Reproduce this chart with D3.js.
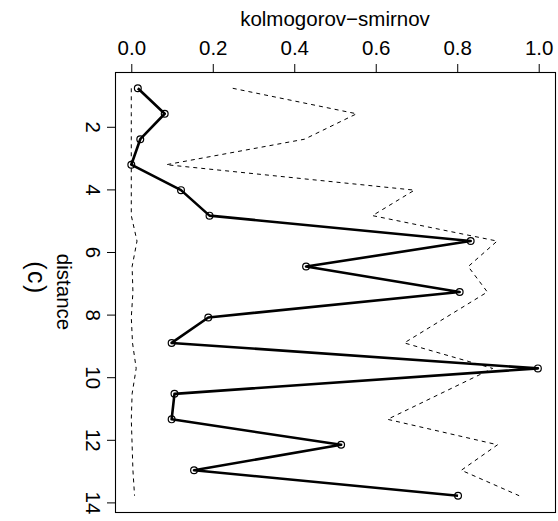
<!DOCTYPE html>
<html>
<head>
<meta charset="utf-8">
<script src="https://cdn.jsdelivr.net/npm/d3@7"></script>
<style>
  html, body { margin: 0; padding: 0; background: #fff; }
  svg { display: block; font-family: "Liberation Sans", Arial, Helvetica, sans-serif; }
</style>
</head>
<body>
<svg id="chart" width="558" height="521"></svg>
<script>
// ---- data ----
const distance   = [0.770, 1.584, 2.397, 3.211, 4.024, 4.838, 5.651, 6.465, 7.278, 8.092, 8.905, 9.719, 10.532, 11.346, 12.159, 12.973, 13.786];
const ksObserved = [0.016, 0.082, 0.022, 0.000, 0.122, 0.192, 0.833, 0.429, 0.806, 0.189, 0.099, 0.998, 0.106, 0.099, 0.515, 0.154, 0.802];
const ksUpper    = [0.249, 0.553, 0.425, 0.086, 0.695, 0.592, 0.898, 0.827, 0.874, 0.772, 0.670, 0.887, 0.758, 0.629, 0.899, 0.810, 0.952];
const ksLower    = [0.000, 0.000, 0.000, 0.000, 0.000, 0.000, 0.014, 0.002, 0.004, 0.000, 0.003, 0.012, 0.002, 0.000, 0.002, 0.004, 0.008];
const ksTicks    = [0, 0.2, 0.4, 0.6, 0.8, 1.0];
const distTicks  = [2, 4, 6, 8, 10, 12, 14];
const ksTitle    = "kolmogorov\u2212smirnov";
const distTitle  = "distance";
const panelLabel = "(c)";

// ---- layout ----
const box = { left: 115, top: 72, right: 555, bottom: 512 };
const fontSize = 20.5;

const svg = d3.select("#chart");

function padded(lo, hi) { const d = (hi - lo) * 0.04; return [lo - d, hi + d]; }

const x = d3.scaleLinear().domain(padded(0, 1)).range([box.left, box.right]);
const dExt = d3.extent(distance);
const y = d3.scaleLinear().domain(padded(dExt[0], dExt[1])).range([box.top, box.bottom]);

// top axis (KS)
const gx = svg.append("g")
  .attr("transform", `translate(0,${box.top})`)
  .call(d3.axisTop(x).tickValues(ksTicks).tickFormat(d3.format(".1f"))
        .tickSizeInner(8).tickSizeOuter(0).tickPadding(9));
gx.select(".domain").remove();
gx.selectAll("line").attr("stroke", "#000").attr("stroke-width", 1);
gx.selectAll("text").attr("font-size", fontSize).attr("fill", "#000")
  .attr("font-family", "Liberation Sans, Arial, sans-serif");

// left axis (distance), labels rotated
const gy = svg.append("g")
  .attr("transform", `translate(${box.left},0)`)
  .call(d3.axisLeft(y).tickValues(distTicks).tickFormat(d3.format("d"))
        .tickSizeInner(8).tickSizeOuter(0));
gy.select(".domain").remove();
gy.selectAll("line").attr("stroke", "#000").attr("stroke-width", 1);
gy.selectAll("text")
  .attr("x", null).attr("y", null).attr("dy", null)
  .attr("text-anchor", "middle")
  .attr("transform", "translate(-29,0) rotate(90)")
  .attr("font-size", fontSize).attr("fill", "#000")
  .attr("font-family", "Liberation Sans, Arial, sans-serif");

// plot box
svg.append("rect")
  .attr("x", box.left + 0.5).attr("y", box.top + 0.5)
  .attr("width", box.right - box.left).attr("height", box.bottom - box.top)
  .attr("fill", "none").attr("stroke", "#000").attr("stroke-width", 1.1);

// titles
svg.append("text")
  .attr("x", (box.left + box.right) / 2).attr("y", 26)
  .attr("text-anchor", "middle").attr("font-size", fontSize).attr("fill", "#000")
  .text(ksTitle);

svg.append("text")
  .attr("text-anchor", "middle").attr("font-size", fontSize).attr("fill", "#000")
  .attr("transform", `translate(57,${(box.top + box.bottom) / 2}) rotate(90)`)
  .text(distTitle);

svg.append("text")
  .attr("text-anchor", "middle").attr("font-size", 25).attr("fill", "#000")
  .attr("letter-spacing", 1.5)
  .attr("transform", `translate(28,278) rotate(90)`)
  .text(panelLabel);

// lines
const lineOf = vals => d3.line().x((d, i) => x(vals[i])).y(d => y(d))(distance);

svg.append("path").attr("d", lineOf(ksLower))
  .attr("fill", "none").attr("stroke", "#000").attr("stroke-width", 1)
  .attr("stroke-dasharray", "4,4");

svg.append("path").attr("d", lineOf(ksUpper))
  .attr("fill", "none").attr("stroke", "#000").attr("stroke-width", 1)
  .attr("stroke-dasharray", "4,4");

svg.append("path").attr("d", lineOf(ksObserved))
  .attr("fill", "none").attr("stroke", "#000").attr("stroke-width", 2.6)
  .attr("stroke-linejoin", "round");

svg.append("g").selectAll("circle")
  .data(distance)
  .join("circle")
  .attr("cx", (d, i) => x(ksObserved[i]))
  .attr("cy", d => y(d))
  .attr("r", 3.4)
  .attr("fill", "none").attr("stroke", "#000").attr("stroke-width", 1.2);
</script>
</body>
</html>
